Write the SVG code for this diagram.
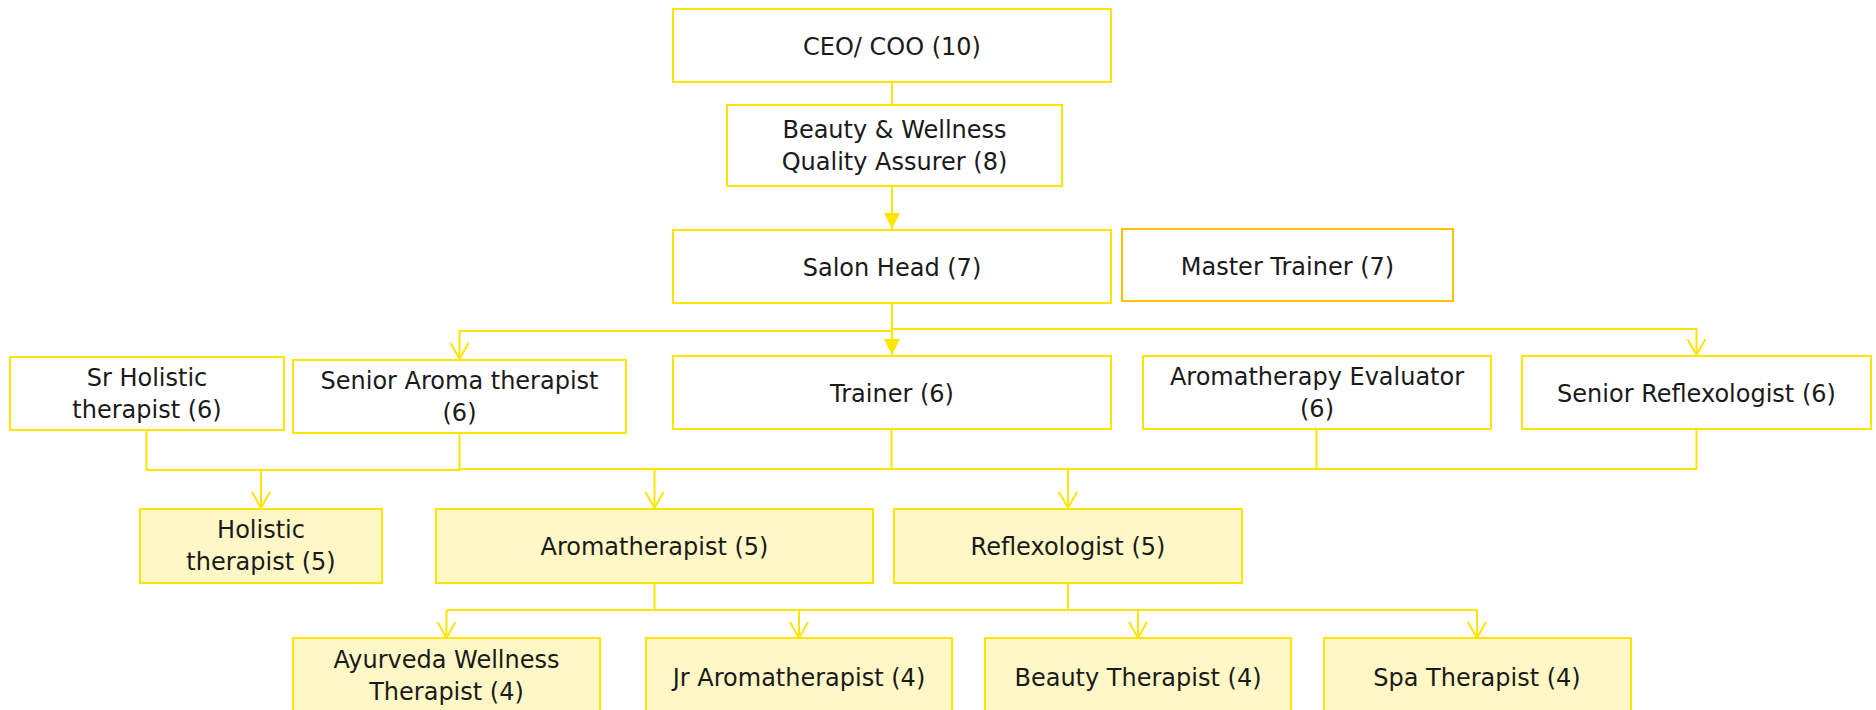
<svg xmlns="http://www.w3.org/2000/svg" width="1876" height="710" viewBox="0 0 1876 710">
<style>
.box{fill:#ffffff;stroke:#FFE600;stroke-width:2}
.lt{fill:#FFF8C6;stroke:#FFE600;stroke-width:2}
.mt{fill:#ffffff;stroke:#FFC000;stroke-width:2}
text{font-family:"DejaVu Sans","Liberation Sans",sans-serif;font-size:24px;fill:#1a1a1a;text-anchor:middle}
.c{fill:none;stroke:#FFE600;stroke-width:2}
</style>
<defs>
<marker id="fa" viewBox="0 0 16 16" refX="8" refY="16" markerWidth="16" markerHeight="16" markerUnits="userSpaceOnUse" orient="0">
<path d="M0 0 L16 0 L8 16 Z" fill="#FFE600"/>
</marker>
<marker id="oa" viewBox="0 0 20 18" refX="10" refY="17" markerWidth="20" markerHeight="18" markerUnits="userSpaceOnUse" orient="0">
<path d="M1 1 L10 17 L19 1" fill="none" stroke="#FFE600" stroke-width="2"/>
</marker>
</defs>
<g id="connectors">
<path class="c" d="M892 82 V105"/>
<path class="c" d="M892 186 V229" marker-end="url(#fa)"/>
<path class="c" d="M892 303 V355" marker-end="url(#fa)"/>
<path class="c" d="M892 303 V331 H459.5 V359" marker-end="url(#oa)"/>
<path class="c" d="M892 329 H1696.5 V355" marker-end="url(#oa)"/>
<path class="c" d="M146.5 430 V470 H459.5 V433"/>
<path class="c" d="M459.5 469 H1696.5 V429"/>
<path class="c" d="M891.5 429 V469"/>
<path class="c" d="M1316.5 429 V469"/>
<path class="c" d="M261 470 V508" marker-end="url(#oa)"/>
<path class="c" d="M654.5 469 V508" marker-end="url(#oa)"/>
<path class="c" d="M1068 469 V508" marker-end="url(#oa)"/>
<path class="c" d="M654.5 583 V610"/>
<path class="c" d="M1068 583 V610"/>
<path class="c" d="M446.5 610 H1477"/>
<path class="c" d="M446.5 610 V638" marker-end="url(#oa)"/>
<path class="c" d="M799 610 V638" marker-end="url(#oa)"/>
<path class="c" d="M1138 610 V638" marker-end="url(#oa)"/>
<path class="c" d="M1477 610 V638" marker-end="url(#oa)"/>
</g>
<g id="ceo"><rect class="box" x="673" y="9" width="438" height="73"/><text x="892" y="55">CEO/ COO (10)</text></g>
<g id="qa"><rect class="box" x="727" y="105" width="335" height="81"/><text x="894.5" y="138">Beauty &amp; Wellness</text><text x="894.5" y="170">Quality Assurer (8)</text></g>
<g id="salon-head"><rect class="box" x="673" y="230" width="438" height="73"/><text x="892" y="276">Salon Head (7)</text></g>
<g id="master-trainer"><rect class="mt" x="1122" y="229" width="331" height="72"/><text x="1287.5" y="275">Master Trainer (7)</text></g>
<g id="sr-holistic"><rect class="box" x="10" y="357" width="274" height="73"/><text x="147" y="386">Sr Holistic</text><text x="147" y="418">therapist (6)</text></g>
<g id="sr-aroma"><rect class="box" x="293" y="360" width="333" height="73"/><text x="459.5" y="389">Senior Aroma therapist</text><text x="459.5" y="421">(6)</text></g>
<g id="trainer"><rect class="box" x="673" y="356" width="438" height="73"/><text x="892" y="402">Trainer (6)</text></g>
<g id="aroma-evaluator"><rect class="box" x="1143" y="356" width="348" height="73"/><text x="1317" y="385">Aromatherapy Evaluator</text><text x="1317" y="417">(6)</text></g>
<g id="sr-reflexologist"><rect class="box" x="1522" y="356" width="349" height="73"/><text x="1696.5" y="402">Senior Reflexologist (6)</text></g>
<g id="holistic"><rect class="lt" x="140" y="509" width="242" height="74"/><text x="261" y="538">Holistic</text><text x="261" y="570">therapist (5)</text></g>
<g id="aromatherapist"><rect class="lt" x="436" y="509" width="437" height="74"/><text x="654.5" y="555">Aromatherapist (5)</text></g>
<g id="reflexologist"><rect class="lt" x="894" y="509" width="348" height="74"/><text x="1068" y="555">Reflexologist (5)</text></g>
<g id="ayurveda"><rect class="lt" x="293" y="638" width="307" height="80"/><text x="446.5" y="668">Ayurveda Wellness</text><text x="446.5" y="700">Therapist (4)</text></g>
<g id="jr-aroma"><rect class="lt" x="646" y="638" width="306" height="80"/><text x="799" y="686">Jr Aromatherapist (4)</text></g>
<g id="beauty-therapist"><rect class="lt" x="985" y="638" width="306" height="80"/><text x="1138" y="686">Beauty Therapist (4)</text></g>
<g id="spa-therapist"><rect class="lt" x="1324" y="638" width="307" height="80"/><text x="1477" y="686">Spa Therapist (4)</text></g>
</svg>
